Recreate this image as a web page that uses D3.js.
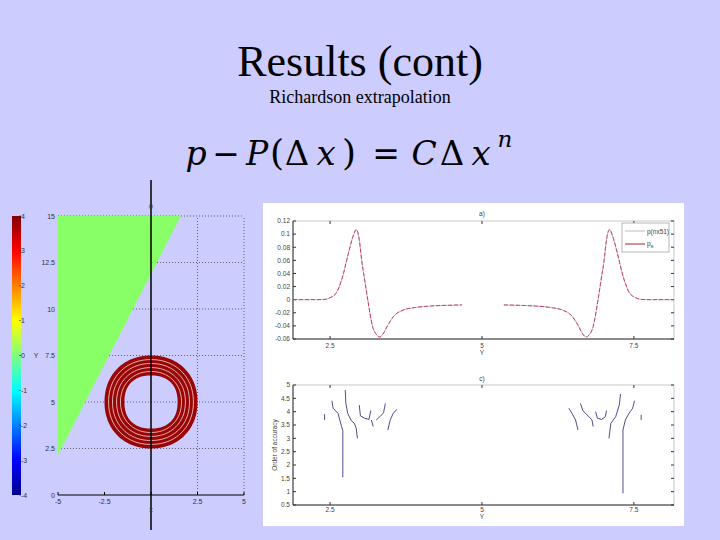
<!DOCTYPE html>
<html><head><meta charset="utf-8">
<script src="https://cdn.jsdelivr.net/npm/d3@7"></script>
<style>body{margin:0;background:#CCCCFF;}svg{display:block;}</style>
</head><body>
<script>
// ---------- DATA ----------
const colorbarTicks = [4,3,2,1,0,-1,-2,-3,-4];
const leftXTicks = [-5,-2.5,0,2.5,5];
const leftXTickLabels = ["-5","-2.5","","2.5","5"];
const leftYTicks = [0,2.5,5,7.5,10,12.5,15];
const leftYTickLabels = ["0","2.5","5","7.5","10","12.5","15"];
const triangleX = [-5, 1.6, -5];
const triangleY = [15, 15, 2.15];
const ringCenter = [0, 5];
const ringInner = 1.43, ringOuter = 2.5;
const ringWhiteRadii = [1.64, 1.85, 2.07, 2.28];

const topYTicks = [0.12,0.1,0.08,0.06,0.04,0.02,0,-0.02,-0.04,-0.06];
const topYTickLabels = ["0.12","0.1","0.08","0.06","0.04","0.02","0","-0.02","-0.04","-0.06"];
const xTicks = [2.5,5,7.5];
const xTickLabels = ["2.5","5","7.5"];
const pX_left  = [1.89,2.1,2.3,2.42,2.5,2.6,2.7,2.8,2.88,2.93,2.98,3.02,3.07,3.12,3.2,3.27,3.32,3.38,3.45,3.55,3.7,3.9,4.15,4.4,4.67];
const pV_left  = [0,0,0,0.0005,0.003,0.01,0.033,0.07,0.097,0.107,0.092,0.06,0.03,0.0,-0.041,-0.054,-0.057,-0.051,-0.039,-0.025,-0.016,-0.012,-0.0097,-0.0087,-0.008];
const pX_right = [5.36,5.63,5.88,6.13,6.33,6.48,6.58,6.65,6.71,6.76,6.83,6.91,6.96,7.01,7.05,7.10,7.15,7.23,7.33,7.43,7.53,7.61,7.73,7.93,8.16];
const pV_right = [-0.008,-0.0087,-0.0097,-0.012,-0.016,-0.025,-0.039,-0.051,-0.057,-0.054,-0.041,0.0,0.03,0.06,0.092,0.107,0.097,0.07,0.033,0.01,0.003,0.0005,0,0,0];
const seriesNames = ["p(nx51)", "p"];

const botYTicks = [5,4.5,4,3.5,3,2.5,2,1.5,1,0.5];
const botYTickLabels = ["5","4.5","4","3.5","3","2.5","2","1.5","1","0.5"];
const orderSegments = [
  {x:[2.41,2.41], y:[3.91,3.69]},
  {x:[2.53,2.55,2.63,2.66,2.69,2.71,2.71], y:[4.41,4.13,3.94,3.69,3.44,3.29,1.54]},
  {x:[2.75,2.76,2.79,2.85,2.90,2.93,2.95], y:[4.81,4.31,3.94,3.66,3.56,3.38,3.0]},
  {x:[2.98,3.0,3.07,3.14,3.17], y:[4.25,3.84,3.75,3.71,4.04]},
  {x:[3.18,3.21], y:[3.69,3.44]},
  {x:[3.26,3.32,3.38,3.41], y:[3.69,3.81,3.96,4.31]},
  {x:[3.45,3.49,3.54,3.60], y:[3.31,3.69,3.94,4.09]},
  {x:[6.43,6.48,6.54,6.58], y:[4.13,3.94,3.69,3.31]},
  {x:[6.62,6.66,6.73,6.81,6.83], y:[4.31,4.04,3.88,3.69,3.44]},
  {x:[6.87,6.90,6.97,7.03,7.05], y:[4.0,3.75,3.71,3.81,4.04]},
  {x:[7.09,7.12,7.20,7.26,7.28], y:[3.0,3.56,3.81,4.25,4.66]},
  {x:[7.32,7.32,7.36,7.42,7.48,7.51], y:[0.94,3.31,3.69,3.94,4.13,4.41]},
  {x:[7.62,7.62], y:[3.88,3.69]}
];

// ---------- DRAW ----------
const W=720,H=540;
const svg=d3.select("body").append("svg").attr("width",W).attr("height",H);
svg.append("rect").attr("width",W).attr("height",H).attr("fill","#CCCCFF");

// Titles
svg.append("text").attr("x",360).attr("y",76).attr("text-anchor","middle")
  .attr("font-family","Liberation Serif, serif").attr("font-size",44).text("Results (cont)");
svg.append("text").attr("x",360).attr("y",103).attr("text-anchor","middle")
  .attr("font-family","Liberation Serif, serif").attr("font-size",18).text("Richardson extrapolation");

// Formula: each glyph centred where the typeset equation puts it
const formulaPieces = [
  ["p",1,196,165,33],["\u2212",0,226,165,33],["P",1,257,165,33],["(",0,277,165,36],
  ["\u0394",0,297,165,34],["x",1,326,165,34],[")",0,349,165,36],["=",0,386,165,33],
  ["C",1,424,165,33],["\u0394",0,452,165,34],["x",1,481,165,34],["n",1,505,147,23]
];
const fg=svg.append("g").attr("font-family","DejaVu Serif, serif").attr("fill","#000");
formulaPieces.forEach(([t,it,cx,y,fs])=>fg.append("text").attr("x",cx).attr("y",y).attr("text-anchor","middle")
  .attr("font-size",fs).attr("font-style",it?"italic":"normal").text(t));

// ----- Left panel -----
const tickFont = {ff:"Liberation Sans, Arial, sans-serif", fs:7, fill:"#333"};
const xL=d3.scaleLinear([-5,5],[58,244]);
const yL=d3.scaleLinear([0,15],[495,216]);
const gL=svg.append("g");
[2.5,5].forEach(v=>gL.append("line").attr("x1",xL(v)).attr("x2",xL(v)).attr("y1",yL(0)).attr("y2",yL(15))
  .attr("stroke","#444").attr("stroke-width",0.8).attr("stroke-dasharray","1,2"));
[2.5,5,7.5,10,12.5,15].forEach(v=>gL.append("line").attr("x1",xL(-5)).attr("x2",xL(5)).attr("y1",yL(v)).attr("y2",yL(v))
  .attr("stroke","#444").attr("stroke-width",0.8).attr("stroke-dasharray","1,2"));
gL.append("path").attr("d",d3.line()(triangleX.map((x,i)=>[xL(x),yL(triangleY[i])]))+"Z").attr("fill","#88FF66");
function superEllipse(r,n){
  const pts=[];
  for(let i=0;i<=120;i++){const t=i/120*2*Math.PI,c=Math.cos(t),s=Math.sin(t);
    pts.push([xL(ringCenter[0]+r*Math.sign(c)*Math.pow(Math.abs(c),2/n)), yL(ringCenter[1]+r*Math.sign(s)*Math.pow(Math.abs(s),2/n))]);}
  return d3.line()(pts)+"Z";
}
const SE=2.12;
gL.append("path").attr("d",superEllipse(ringOuter,SE)+superEllipse(ringInner,2.3)).attr("fill","#9A0505").attr("fill-rule","evenodd");
ringWhiteRadii.forEach(r=>gL.append("path").attr("d",superEllipse(r,SE)).attr("fill","none").attr("stroke","#f5dada").attr("stroke-width",0.8));
gL.append("line").attr("x1",xL(-5)).attr("x2",xL(5)).attr("y1",yL(0)).attr("y2",yL(0)).attr("stroke","#000").attr("stroke-width",1);
gL.append("line").attr("x1",xL(0)).attr("x2",xL(0)).attr("y1",180).attr("y2",530).attr("stroke","#000").attr("stroke-width",1.5);
leftXTicks.forEach((v,i)=>{
  gL.append("line").attr("x1",xL(v)).attr("x2",xL(v)).attr("y1",yL(0)).attr("y2",yL(0)-3).attr("stroke","#000");
  gL.append("text").attr("x",xL(v)).attr("y",yL(0)+9).attr("text-anchor","middle")
   .attr("font-family",tickFont.ff).attr("font-size",tickFont.fs).attr("fill",tickFont.fill).text(leftXTickLabels[i]);
});
leftYTicks.forEach((v,i)=>gL.append("text").attr("x",xL(-5)-3).attr("y",yL(v)+2.5).attr("text-anchor","end")
   .attr("font-family",tickFont.ff).attr("font-size",tickFont.fs).attr("fill",tickFont.fill).text(leftYTickLabels[i]));
gL.append("text").attr("x",36).attr("y",358).attr("text-anchor","middle")
   .attr("font-family",tickFont.ff).attr("font-size",tickFont.fs).attr("fill",tickFont.fill).text("Y");
gL.append("text").attr("x",xL(0)).attr("y",512).attr("text-anchor","middle")
   .attr("font-family",tickFont.ff).attr("font-size",tickFont.fs).attr("fill",tickFont.fill).text("x");
gL.append("text").attr("x",xL(0)).attr("y",209).attr("text-anchor","middle")
   .attr("font-family",tickFont.ff).attr("font-size",tickFont.fs).attr("fill",tickFont.fill).text("0");

// colorbar
const cS=d3.scaleLinear([-4,4],[495,216]);
const jet=["#00008F","#0000FF","#0080FF","#00FFFF","#80FF80","#FFFF00","#FF8000","#FF0000","#800000"];
const grad=svg.append("defs").append("linearGradient").attr("id","jet").attr("x1",0).attr("y1",1).attr("x2",0).attr("y2",0);
jet.forEach((c,i)=>grad.append("stop").attr("offset",i/(jet.length-1)).attr("stop-color",c));
svg.append("rect").attr("x",12).attr("y",cS(4)).attr("width",9).attr("height",cS(-4)-cS(4)).attr("fill","url(#jet)");
colorbarTicks.forEach(v=>{
  svg.append("line").attr("x1",19).attr("x2",21).attr("y1",cS(v)).attr("y2",cS(v)).attr("stroke","#222").attr("stroke-width",0.6);
  svg.append("text").attr("x",21).attr("y",cS(v)+2.5).attr("font-family",tickFont.ff).attr("font-size",tickFont.fs).attr("fill",tickFont.fill).text(v);
});

// ----- Right panels -----
svg.append("rect").attr("x",263).attr("y",203).attr("width",421).attr("height",323).attr("fill","#fff");

function axesBox(g,x0,x1,y0,y1){
  g.append("rect").attr("x",x0).attr("y",y0).attr("width",x1-x0).attr("height",y1-y0).attr("fill","none").attr("stroke","#bbb").attr("stroke-width",0.8);
  g.append("line").attr("x1",x0).attr("x2",x0).attr("y1",y0).attr("y2",y1).attr("stroke","#333");
  g.append("line").attr("x1",x0).attr("x2",x1).attr("y1",y1).attr("y2",y1).attr("stroke","#333");
}
const txt=(g,x,y,t,anchor)=>g.append("text").attr("x",x).attr("y",y).attr("text-anchor",anchor||"middle")
   .attr("font-family",tickFont.ff).attr("font-size",6.5).attr("fill","#444").text(t);

// top plot
const xT=d3.scaleLinear([1.89,8.16],[293,674]);
const yT=d3.scaleLinear([-0.06,0.12],[339,221]);
const gT=svg.append("g");
axesBox(gT,293,674,221,339);
topYTicks.forEach((v,i)=>{
  gT.append("line").attr("x1",293).attr("x2",296).attr("y1",yT(v)).attr("y2",yT(v)).attr("stroke","#333");
  gT.append("line").attr("x1",671).attr("x2",674).attr("y1",yT(v)).attr("y2",yT(v)).attr("stroke","#333");
  txt(gT,290,yT(v)+2.3,topYTickLabels[i],"end");
});
xTicks.forEach((v,i)=>{
  gT.append("line").attr("x1",xT(v)).attr("x2",xT(v)).attr("y1",339).attr("y2",336).attr("stroke","#333");
  gT.append("line").attr("x1",xT(v)).attr("x2",xT(v)).attr("y1",221).attr("y2",224).attr("stroke","#333");
  txt(gT,xT(v),348,xTickLabels[i]);
});
txt(gT,xT(5),355,"Y");
txt(gT,xT(5),216,"a)");
const lineT=d3.line().x(d=>xT(d[0])).y(d=>yT(d[1])).curve(d3.curveMonotoneX);
[[pX_left,pV_left],[pX_right,pV_right]].forEach(([xs,vs])=>{
  const pts=xs.map((x,i)=>[x,vs[i]]);
  gT.append("path").attr("d",lineT(pts)).attr("fill","none").attr("stroke","#b0a8c8").attr("stroke-width",0.8);
  gT.append("path").attr("d",lineT(pts)).attr("fill","none").attr("stroke","#cc3344").attr("stroke-width",0.9).attr("stroke-dasharray","4,2");
});
const lg=gT.append("g");
lg.append("rect").attr("x",622).attr("y",223).attr("width",47).attr("height",29).attr("fill","#fff").attr("stroke","#999").attr("stroke-width",0.7);
lg.append("line").attr("x1",625).attr("x2",645).attr("y1",231).attr("y2",231).attr("stroke","#b0a8c8").attr("stroke-width",0.8);
lg.append("line").attr("x1",625).attr("x2",645).attr("y1",244).attr("y2",244).attr("stroke","#aa2233").attr("stroke-width",1);
txt(lg,647,233.5,seriesNames[0],"start");
const le=txt(lg,647,246,"","start"); le.append("tspan").text(seriesNames[1]); le.append("tspan").attr("font-size",5).attr("dy",2).text("e");

// bottom plot
const xB=d3.scaleLinear([1.89,8.16],[293,674]);
const yB=d3.scaleLinear([0.5,5],[505,385]);
const gB=svg.append("g");
axesBox(gB,293,674,385,505);
botYTicks.forEach((v,i)=>{
  gB.append("line").attr("x1",293).attr("x2",296).attr("y1",yB(v)).attr("y2",yB(v)).attr("stroke","#333");
  gB.append("line").attr("x1",671).attr("x2",674).attr("y1",yB(v)).attr("y2",yB(v)).attr("stroke","#333");
  txt(gB,290,yB(v)+2.3,botYTickLabels[i],"end");
});
xTicks.forEach((v,i)=>{
  gB.append("line").attr("x1",xB(v)).attr("x2",xB(v)).attr("y1",505).attr("y2",502).attr("stroke","#333");
  gB.append("line").attr("x1",xB(v)).attr("x2",xB(v)).attr("y1",385).attr("y2",388).attr("stroke","#333");
  txt(gB,xB(v),512,xTickLabels[i]);
});
txt(gB,xB(5),519,"Y");
txt(gB,xB(5),381,"c)");
gB.append("text").attr("transform","translate(277,445) rotate(-90)").attr("text-anchor","middle")
  .attr("font-family",tickFont.ff).attr("font-size",6.5).attr("fill","#444").text("Order of accuracy");
const lineB=d3.line().x(d=>xB(d[0])).y(d=>yB(d[1]));
orderSegments.forEach(s=>gB.append("path").attr("d",lineB(s.x.map((x,i)=>[x,s.y[i]])))
  .attr("fill","none").attr("stroke","#3a3a80").attr("stroke-width",0.9));
</script>
</body></html>
